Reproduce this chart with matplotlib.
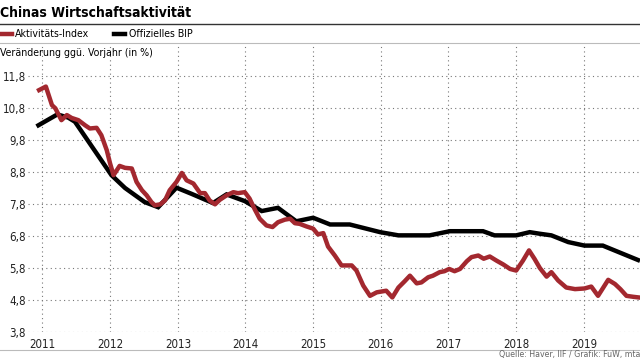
import matplotlib
matplotlib.use("Agg")
import matplotlib.pyplot as plt
from matplotlib import font_manager
from matplotlib.lines import Line2D

# Aktivitäts-Index (decimal year / % yoy)
akt_t = [2010.95, 2011.05, 2011.14, 2011.19, 2011.28, 2011.36, 2011.43, 2011.53, 2011.63, 2011.70,
         2011.80, 2011.87, 2011.95, 2012.00, 2012.05, 2012.14, 2012.22, 2012.32, 2012.39, 2012.47,
         2012.54, 2012.61, 2012.66, 2012.74, 2012.81, 2012.88, 2012.98, 2013.06, 2013.13, 2013.23,
         2013.33, 2013.40, 2013.47, 2013.55, 2013.62, 2013.72, 2013.82, 2013.89, 2013.99, 2014.06,
         2014.14, 2014.21, 2014.31, 2014.40, 2014.48, 2014.58, 2014.66, 2014.73, 2014.80, 2014.90,
         2015.00, 2015.07, 2015.15, 2015.22, 2015.32, 2015.42, 2015.52, 2015.57, 2015.64, 2015.74,
         2015.84, 2015.94, 2016.08, 2016.17, 2016.26, 2016.35, 2016.43, 2016.53, 2016.60, 2016.70,
         2016.77, 2016.87, 2016.94, 2017.01, 2017.09, 2017.17, 2017.27, 2017.34, 2017.44, 2017.52,
         2017.61, 2017.71, 2017.81, 2017.91, 2018.00, 2018.10, 2018.19, 2018.27, 2018.35, 2018.45,
         2018.52, 2018.62, 2018.74, 2018.87, 2019.01, 2019.11, 2019.21, 2019.36, 2019.46, 2019.54,
         2019.63, 2019.73, 2019.81]
akt_v = [11.36, 11.47, 10.89, 10.79, 10.42, 10.58, 10.49, 10.42, 10.26, 10.16,
         10.18, 9.95, 9.48, 9.06, 8.70, 8.99, 8.93, 8.91, 8.49, 8.23,
         8.07, 7.86, 7.76, 7.79, 7.91, 8.23, 8.49, 8.77, 8.54, 8.44,
         8.14, 8.14, 7.91, 7.79, 7.93, 8.07, 8.17, 8.14, 8.17, 7.97,
         7.62, 7.34, 7.13, 7.08, 7.23, 7.31, 7.34, 7.20, 7.18, 7.10,
         7.03, 6.85, 6.89, 6.47, 6.19, 5.88, 5.88, 5.88, 5.72, 5.25,
         4.93, 5.04, 5.09, 4.88, 5.19, 5.38, 5.56, 5.32, 5.35, 5.51,
         5.56, 5.67, 5.70, 5.77, 5.70, 5.77, 6.01, 6.14, 6.19, 6.09,
         6.16, 6.03, 5.91, 5.77, 5.72, 6.03, 6.35, 6.09, 5.80, 5.53,
         5.67, 5.41, 5.19, 5.14, 5.16, 5.22, 4.93, 5.43, 5.30, 5.14,
         4.93, 4.90, 4.88]

# Offizielles BIP
bip_t = [2010.94, 2011.22, 2011.38, 2011.48, 2012.02, 2012.22, 2012.51, 2012.71, 2012.98, 2013.20,
         2013.52, 2013.72, 2013.99, 2014.24, 2014.48, 2014.75, 2015.00, 2015.25, 2015.54, 2015.99,
         2016.26, 2016.72, 2017.02, 2017.51, 2017.68, 2018.00, 2018.20, 2018.35, 2018.52, 2018.77,
         2019.01, 2019.28, 2019.80]
bip_v = [10.26, 10.60, 10.50, 10.37, 8.70, 8.30, 7.86, 7.70, 8.31, 8.12,
         7.83, 8.10, 7.89, 7.58, 7.68, 7.26, 7.37, 7.16, 7.16, 6.92,
         6.82, 6.82, 6.95, 6.95, 6.82, 6.82, 6.92, 6.87, 6.82, 6.61,
         6.50, 6.50, 6.05]

years = list(range(2011, 2020))
yticks = [3.8, 4.8, 5.8, 6.8, 7.8, 8.8, 9.8, 10.8, 11.8]

RED = "#a3282f"

names = {f.name for f in font_manager.fontManager.ttflist}
FONT = "Liberation Sans Narrow" if "Liberation Sans Narrow" in names else "DejaVu Sans"
plt.rcParams["font.family"] = [FONT, "DejaVu Sans"]
plt.rcParams["font.stretch"] = "condensed"

fig = plt.figure(figsize=(6.4, 3.6), dpi=100)
H = 360.0


def fy(px):
    return 1 - px / H


ax = fig.add_axes([28 / 640, fy(332), 1 - 28 / 640, (332 - 44) / H])
ax.plot(bip_t, bip_v, color="black", lw=3.2, solid_joinstyle="miter", zorder=3)
ax.plot(akt_t, akt_v, color=RED, lw=3.2, solid_joinstyle="round", zorder=4)

ax.set_xlim(2010.786, 2019.83)
ax.set_ylim(3.8, 12.8)
ax.set_xticks(years)
ax.set_xticklabels([str(y) for y in years])
ax.set_yticks(yticks)
ax.set_yticklabels([f"{v:.1f}".replace(".", ",") for v in yticks])
ax.tick_params(length=0, labelsize=8.3, colors="#222")
ax.tick_params(axis="y", pad=1.5)
ax.tick_params(axis="x", pad=4)
ax.grid(True, color="#777", lw=0.8, ls=(0, (1, 3)))
for s in ax.spines.values():
    s.set_visible(False)

# header
fig.text(0, fy(13), "Chinas Wirtschaftsaktivität", fontsize=10, fontweight="bold",
         va="center", ha="left")
fig.add_artist(Line2D([0, 1], [fy(23.5)] * 2, color="#333", lw=1))
fig.add_artist(Line2D([0, 12 / 640], [fy(33.5)] * 2, color=RED, lw=3.2))
fig.text(15 / 640, fy(34), "Aktivitäts-Index", fontsize=7.6, va="center")
fig.add_artist(Line2D([114 / 640, 125 / 640], [fy(33.5)] * 2, color="black", lw=3.2))
fig.text(129 / 640, fy(34), "Offizielles BIP", fontsize=7.6, va="center")
fig.add_artist(Line2D([0, 1], [fy(43)] * 2, color="#bbb", lw=0.8))
fig.text(0, fy(53), "Veränderung ggü. Vorjahr (in %)", fontsize=7.6, va="center")

# footer
fig.add_artist(Line2D([0, 1], [fy(349.5)] * 2, color="#bbb", lw=0.8))
fig.text(1, fy(355), "Quelle: Haver, IIF / Grafik: FuW, mta", fontsize=6.3, color="#666",
         ha="right", va="center")

fig.savefig("out.png", dpi=100)
